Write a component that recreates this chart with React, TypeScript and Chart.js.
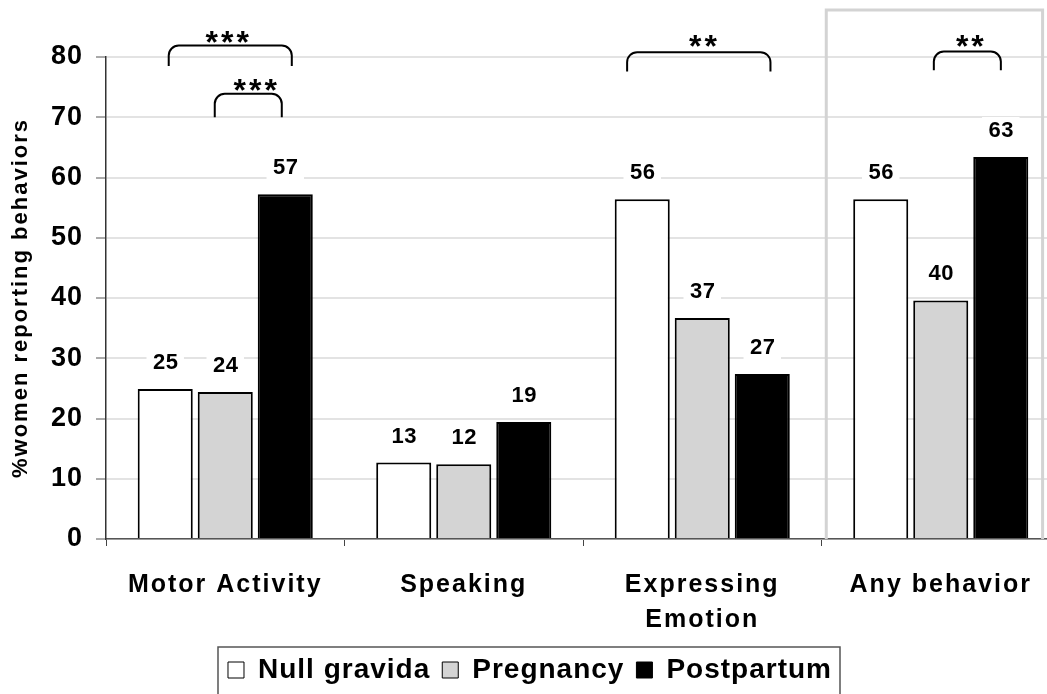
import React, { useEffect, useRef } from 'react';
import { Chart, registerables } from 'chart.js';

Chart.register(...registerables);

// ---------- data ----------
const categories: (string | string[])[] = ['Motor Activity', 'Speaking', ['Expressing', 'Emotion'], 'Any behavior'];
const seriesNames = ['Null gravida', 'Pregnancy', 'Postpartum'];
const nullGravida = [24.9, 12.7, 56.4, 56.4];
const pregnancy = [24.4, 12.4, 36.7, 39.6];
const postpartum = [57.2, 19.4, 27.4, 63.4];
const yMin = 0;
const yMax = 80;
const yStep = 10;
const yTitle = '%women reporting behaviors';

// significance brackets (category index, significance stars, levels in data units)
const bracketCategory = [0, 0, 2, 3];
const bracketStars = ['***', '***', '**', '**'];
const bracketTop = [81.9, 73.9, 80.8, 80.9];
const bracketLeg = [78.5, 70.0, 77.6, 77.8];
const starLevel = [83.6, 75.7, 83.0, 83.0];
// horizontal extent as fraction of one category width, relative to category centre
const bracketFrom = [-0.237, -0.044, -0.315, -0.029];
const bracketTo = [0.279, 0.237, 0.286, 0.252];
const starShift = [0.008, 0.126, 0.003, 0.122];

const highlightCategory = 3;
const highlightTop = 87.8;

const FONT = '"Liberation Sans", Arial, sans-serif';

function wrap(obj: any, name: string, spacing: string) {
  if (!obj || obj['__w_' + name] || typeof obj[name] !== 'function') return;
  const orig = obj[name];
  obj[name] = function (this: any, ...args: any[]) {
    const ctx = this.ctx as any;
    const prev = ctx.letterSpacing;
    ctx.letterSpacing = spacing;
    try {
      return orig.apply(this, args);
    } finally {
      ctx.letterSpacing = prev || '0px';
    }
  };
  obj['__w_' + name] = true;
}

function installSpacing(chart: any) {
  if (chart.legend) {
    wrap(chart.legend, 'fit', '1px');
    wrap(chart.legend, 'draw', '1px');
  }
  if (chart.scales && chart.scales.x) wrap(chart.scales.x, 'drawLabels', '2px');
  if (chart.scales && chart.scales.y) {
    wrap(chart.scales.y, 'drawLabels', '1px');
    wrap(chart.scales.y, 'drawTitle', '2px');
  }
}

const annotationPlugin = {
  id: 'annotations',
  beforeLayout(chart: any) { installSpacing(chart); },
  beforeDraw(chart: any) { installSpacing(chart); },
  beforeDatasetsDraw(chart: any) {
    const { ctx, chartArea, scales } = chart;
    const x = scales.x, y = scales.y;
    const step = x.getPixelForValue(1) - x.getPixelForValue(0);
    const cx = x.getPixelForValue(highlightCategory);
    const l = cx - 0.48 * step;
    const r = cx + 0.427 * step;
    const t = y.getPixelForValue(highlightTop);
    const b = chartArea.bottom;
    ctx.save();
    ctx.strokeStyle = '#d3d3d3';
    ctx.lineWidth = 3;
    ctx.beginPath();
    ctx.moveTo(l, b);
    ctx.lineTo(l, t);
    ctx.lineTo(r, t);
    ctx.lineTo(r, b);
    ctx.stroke();
    ctx.restore();
  },
  afterDatasetsDraw(chart: any) {
    const { ctx, scales } = chart;
    const x = scales.x, y = scales.y;
    ctx.save();
    // value labels
    (ctx as any).letterSpacing = '0.5px';
    ctx.font = `bold 22px ${FONT}`;
    ctx.textAlign = 'center';
    ctx.textBaseline = 'middle';
    chart.data.datasets.forEach((ds: any, di: number) => {
      const meta = chart.getDatasetMeta(di);
      meta.data.forEach((bar: any, i: number) => {
        const text = String(Math.round(ds.data[i]));
        const yc = bar.y - 26;
        const w = ctx.measureText(text).width;
        ctx.fillStyle = '#ffffff';
        ctx.fillRect(bar.x - w / 2 - 6, yc - 14, w + 12, 28);
        ctx.fillStyle = '#000000';
        ctx.fillText(text, bar.x + 0.5, yc);
      });
    });
    // brackets
    const step = x.getPixelForValue(1) - x.getPixelForValue(0);
    ctx.strokeStyle = '#000';
    ctx.lineWidth = 2;
    const rad = 10;
    bracketCategory.forEach((c, k) => {
      const cx = x.getPixelForValue(c);
      const x1 = cx + bracketFrom[k] * step;
      const x2 = cx + bracketTo[k] * step;
      const yt = y.getPixelForValue(bracketTop[k]);
      const yb = y.getPixelForValue(bracketLeg[k]);
      ctx.beginPath();
      ctx.moveTo(x1, yb);
      ctx.arcTo(x1, yt, x1 + rad, yt, rad);
      ctx.arcTo(x2, yt, x2, yt + rad, rad);
      ctx.lineTo(x2, yb);
      ctx.stroke();
      (ctx as any).letterSpacing = '3px';
      ctx.font = `bold 32px ${FONT}`;
      ctx.textAlign = 'center';
      ctx.textBaseline = 'alphabetic';
      ctx.fillStyle = '#000';
      const sx = cx + starShift[k] * step + 1.5;
      const sy = y.getPixelForValue(starLevel[k]) + 18;
      ctx.fillText(bracketStars[k], sx, sy);
    });
    ctx.restore();
  },
  afterDraw(chart: any) {
    const lg = chart.legend;
    if (!lg || !lg.legendHitBoxes || !lg.legendHitBoxes.length) return;
    const hb = lg.legendHitBoxes;
    const first = hb[0];
    const last = hb[hb.length - 1];
    const left = first.left - 10;
    const right = last.left + last.width + 8;
    const ctx = chart.ctx;
    ctx.save();
    ctx.strokeStyle = '#555';
    ctx.lineWidth = 1.5;
    ctx.strokeRect(left, lg.top + 3, right - left, 120);
    ctx.restore();
  },
};

export default function App() {
  const ref = useRef<HTMLCanvasElement | null>(null);

  useEffect(() => {
    if (!ref.current) return;
    const chart = new Chart(ref.current, {
      type: 'bar',
      data: {
        labels: categories as any,
        datasets: [
          { label: seriesNames[0], data: nullGravida, backgroundColor: '#ffffff', borderColor: '#000000', borderWidth: 2 },
          { label: seriesNames[1], data: pregnancy, backgroundColor: '#d4d4d4', borderColor: '#000000', borderWidth: 2 },
          { label: seriesNames[2], data: postpartum, backgroundColor: '#000000', borderColor: '#000000', borderWidth: 2 },
        ],
      },
      options: {
        responsive: false,
        animation: false,
        devicePixelRatio: 1,
        layout: { padding: { top: 57, left: 0, right: 0, bottom: 0 } },
        datasets: { bar: { categoryPercentage: 0.755, barPercentage: 0.917 } } as any,
        plugins: {
          tooltip: { enabled: false },
          legend: {
            position: 'bottom',
            labels: {
              font: { family: FONT, size: 28, weight: 'bold' },
              color: '#000',
              boxWidth: 16,
              boxHeight: 16,
              padding: 12,
              generateLabels: (ch: any) => {
                const items = (Chart.defaults.plugins.legend.labels as any).generateLabels(ch);
                return items.map((it: any) => ({ ...it, lineWidth: 1, strokeStyle: '#000' }));
              },
            },
          },
        },
        scales: {
          x: {
            grid: { display: true, drawOnChartArea: false, drawTicks: true, tickLength: 7, tickColor: '#444', tickWidth: 1, offset: true },
            border: { color: '#555', width: 1.5 },
            ticks: {
              font: { family: FONT, size: 25, weight: 'bold', lineHeight: 1.4 },
              color: '#000',
              padding: 22,
              maxRotation: 0,
              autoSkip: false,
            },
            afterFit: (s: any) => { s.height = 105; },
          },
          y: {
            min: yMin,
            max: yMax,
            ticks: { stepSize: yStep, font: { family: FONT, size: 27, weight: 'bold' }, color: '#000', padding: 13 },
            grid: { color: '#e3e3e3', lineWidth: 2, drawTicks: true, tickLength: 10, tickColor: '#555', tickWidth: 1 },
            border: { color: '#333', width: 1.5 },
            title: {
              display: true,
              text: yTitle,
              font: { family: FONT, size: 22, weight: 'bold' },
              color: '#000',
              padding: { top: 8, bottom: 0 },
            },
            afterFit: (s: any) => { s.width = 106; },
          },
        },
      } as any,
      plugins: [annotationPlugin as any],
    });
    return () => chart.destroy();
  }, []);

  return (
    <div style={{ position: 'fixed', left: 0, top: 0, width: 1047, height: 694, overflow: 'hidden', background: '#fff' }}>
      <canvas ref={ref} width={1060} height={694} style={{ display: 'block' }} />
    </div>
  );
}
